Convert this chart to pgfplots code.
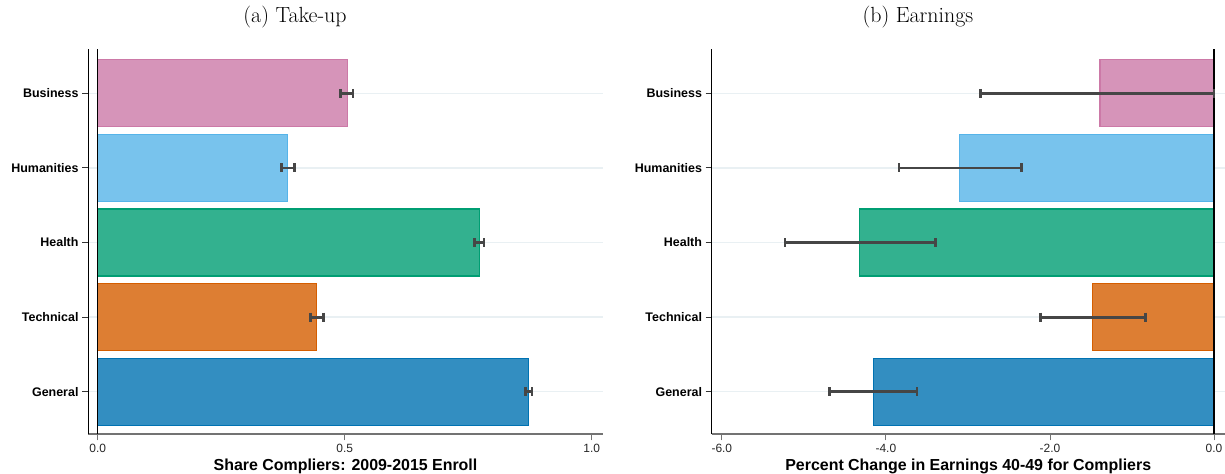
\documentclass[border=0pt]{standalone}
\usepackage{pgfplots}
\pgfplotsset{compat=1.18}
\usepackage{fontspec}
\setsansfont{Liberation Sans}

% Okabe-Ito style palette: edges in full colour, fills lightened
\definecolor{cBus}{RGB}{204,121,167}
\definecolor{cHum}{RGB}{86,180,233}
\definecolor{cHea}{RGB}{0,158,115}
\definecolor{cTec}{RGB}{213,94,0}
\definecolor{cGen}{RGB}{0,114,178}
\definecolor{gridc}{RGB}{233,240,243}
\definecolor{cibar}{RGB}{70,70,70}

\pgfplotsset{
  panel/.style={
    scale only axis,
    height=385bp,
    anchor=south west,
    ymin=0.429, ymax=5.59,
    ytick={1,2,3,4,5},
    yticklabels={General,Technical,Health,Humanities,Business},
    axis lines*=left,
    x axis line style={draw=black!55, line width=1.8bp},
    y axis line style={draw=black, line width=0.9bp},
    tick align=outside,
    major tick length=6bp,
    xtick style={draw=black!55, line width=0.9bp},
    ytick style={draw=black!80, line width=0.9bp},
    ymajorgrids,
    major grid style={draw=gridc, line width=1.3bp},
    xticklabel style={font=\sffamily\fontsize{12}{14}\selectfont, text=black!85},
    yticklabel style={font=\sffamily\bfseries\fontsize{12.5}{14}\selectfont},
    xlabel style={font=\sffamily\bfseries\fontsize{16}{18}\selectfont,
      at={(axis description cs:0.5,0)}, anchor=base, yshift=-36bp},
    title style={font=\fontsize{22}{26}\selectfont,
      at={(axis description cs:0.402,1)}, anchor=base, yshift=21bp},
  },
  bar/.style={xbar, bar shift=0pt, bar width=0.9, draw=#1, fill=#1!80!white, line width=1.2bp},
  ci/.style={draw=cibar, line width=2.8bp, mark=|, mark size=4.5bp,
    mark options={draw=cibar, line width=2.8bp}},
  zeroline/.style={draw=black, line width=1.6bp},
}

\begin{document}
\begin{tikzpicture}
\path[use as bounding box] (0,0) rectangle (1225bp,474bp);

% (a) take-up shares
\begin{axis}[panel,
  at={(88bp,39.7bp)}, width=515bp,
  xmin=-0.0196, xmax=1.0229,
  xtick={0,0.5,1}, xticklabels={0.0,0.5,1.0},
  xlabel={Share Compliers: 2009-2015 Enroll},
  title={(a) Take-up}]
  \addplot[bar=cGen] coordinates {(0.872,1)};
  \addplot[bar=cTec] coordinates {(0.443,2)};
  \addplot[bar=cHea] coordinates {(0.773,3)};
  \addplot[bar=cHum] coordinates {(0.385,4)};
  \addplot[bar=cBus] coordinates {(0.506,5)};
  % confidence intervals
  \addplot[ci] coordinates {(0.866,1) (0.879,1)};
  \addplot[ci] coordinates {(0.431,2) (0.457,2)};
  \addplot[ci] coordinates {(0.762,3) (0.782,3)};
  \addplot[ci] coordinates {(0.372,4) (0.399,4)};
  \addplot[ci] coordinates {(0.492,5) (0.517,5)};
  \addplot[zeroline] coordinates {(0,0.429) (0,5.59)};
\end{axis}

% (b) earnings effects
\begin{axis}[panel,
  at={(711.5bp,39.7bp)}, width=513.5bp,
  xmin=-6.126, xmax=0.134,
  xtick={-6,-4,-2,0}, xticklabels={-6.0,-4.0,-2.0,0.0},
  xlabel={Percent Change in Earnings 40-49 for Compliers},
  title={(b) Earnings}]
  \addplot[bar=cGen] coordinates {(-4.15,1)};
  \addplot[bar=cTec] coordinates {(-1.48,2)};
  \addplot[bar=cHea] coordinates {(-4.32,3)};
  \addplot[bar=cHum] coordinates {(-3.10,4)};
  \addplot[bar=cBus] coordinates {(-1.39,5)};
  % confidence intervals
  \addplot[ci] coordinates {(-4.69,1) (-3.62,1)};
  \addplot[ci] coordinates {(-2.12,2) (-0.84,2)};
  \addplot[ci] coordinates {(-5.23,3) (-3.40,3)};
  \addplot[ci] coordinates {(-3.84,4) (-2.35,4)};
  \addplot[ci] coordinates {(-2.85,5) (0.00,5)};
  \addplot[zeroline] coordinates {(0,0.429) (0,5.59)};
\end{axis}
\end{tikzpicture}
\end{document}
